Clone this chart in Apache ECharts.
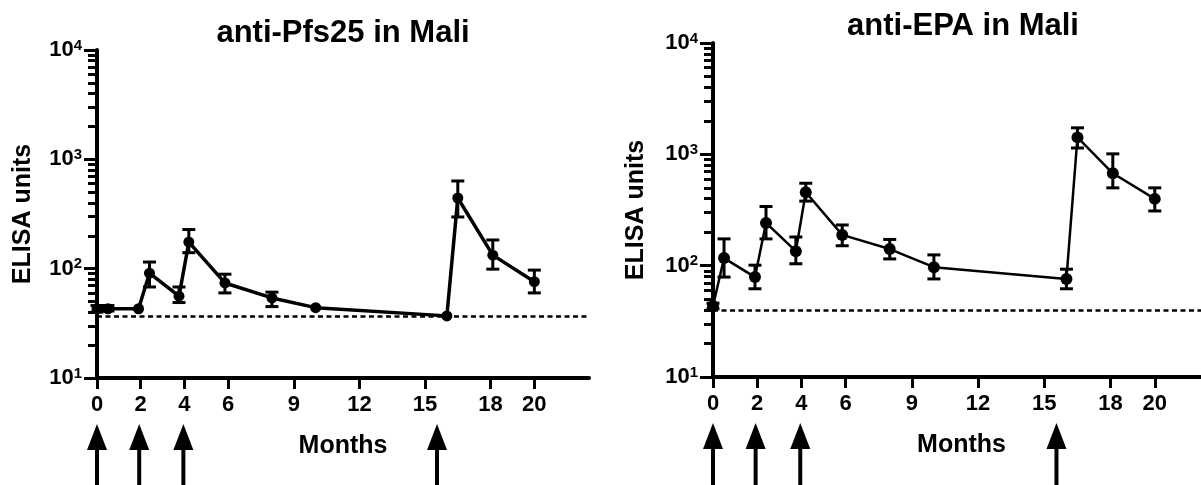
<!DOCTYPE html>
<html><head><meta charset="utf-8">
<script src="https://cdn.jsdelivr.net/npm/echarts@6/dist/echarts.min.js"></script>
<style>html,body{margin:0;padding:0;background:#fff}#c{width:1201px;height:485px}</style>
</head><body><div id="c"></div>
<script>
// ---- data ----
const months = [0, 0.5, 1.9, 2.4, 3.75, 4.2, 5.85, 8, 10, 16, 16.5, 18.1, 20];
const pfs25Mean = [43, 43, 43, 91, 56, 175, 74, 54, 44, 37, 443, 133, 76];
const pfs25Low  = [40, 41, null, 68, 49, 140, 60, 45, null, null, 297, 99, 60];
const pfs25High = [46, 46, null, 115, 68, 228, 89, 61, null, null, 634, 183, 97];
const epaMean = [43.5, 117, 79, 242, 135, 457, 189, 141, 97, 76, 1420, 676, 398];
const epaLow  = [41, 79, 62, 174, 104, 380, 151, 115, 76, 62, 1140, 500, 310];
const epaHigh = [46, 174, 101, 340, 181, 550, 232, 172, 125, 93, 1730, 1010, 500];
const vaccinationMonths = [0, 1.93, 3.95, 15.55];
const pfs25Cutoff = 37;
const epaCutoff = 40;
const xTickValues = [0, 2, 4, 6, 9, 12, 15, 18, 20];
const yMajorTicks = [10, 100, 1000, 10000];
const yMinorTicks = [20, 30, 40, 50, 60, 70, 80, 90, 200, 300, 400, 500, 600, 700, 800, 900, 2000, 3000, 4000, 5000, 6000, 7000, 8000, 9000];
const panelTitles = ['anti-Pfs25 in Mali', 'anti-EPA in Mali'];
const xName = 'Months';
const yName = 'ELISA units';

// ---- chart ----
const FONT = '"Liberation Sans", Arial, sans-serif';
const chart = echarts.init(document.getElementById('c'), null, {renderer: 'canvas'});

function pts(mean) { return months.map((m, i) => [m, mean[i]]); }
function errs(lo, hi) {
  const out = [];
  months.forEach((m, i) => { if (lo[i] != null) out.push([m, lo[i], hi[i]]); });
  return out;
}
function errRender(params, api) {
  const x = api.value(0);
  const lo = api.coord([x, api.value(1)]);
  const hi = api.coord([x, api.value(2)]);
  const w = 6.5, st = {stroke: '#000', lineWidth: 3};
  return {type: 'group', children: [
    {type: 'line', shape: {x1: lo[0], y1: lo[1], x2: hi[0], y2: hi[1]}, style: st},
    {type: 'line', shape: {x1: lo[0] - w, y1: lo[1], x2: lo[0] + w, y2: lo[1]}, style: st},
    {type: 'line', shape: {x1: hi[0] - w, y1: hi[1], x2: hi[0] + w, y2: hi[1]}, style: st}
  ]};
}
function arrowRender(params, api) {
  const p = api.coord([api.value(0), 10]);
  const x = p[0], y0 = p[1];
  return {type: 'group', children: [
    {type: 'polygon', shape: {points: [[x, y0 + 46], [x - 10, y0 + 72], [x + 10, y0 + 72]]}, style: {fill: '#000'}},
    {type: 'rect', shape: {x: x - 2, y: y0 + 70, width: 4, height: 40}, style: {fill: '#000'}}
  ]};
}
function xAxis(gi) {
  return {
    type: 'value', gridIndex: gi, min: 0, max: 22.5,
    name: xName, nameLocation: 'middle', nameGap: 56,
    nameTextStyle: {fontSize: 25, fontWeight: 'bold', color: '#000', fontFamily: FONT},
    axisLine: {show: true, lineStyle: {color: '#000', width: 4}},
    axisTick: {show: true, customValues: xTickValues, length: 11, lineStyle: {color: '#000', width: 3}},
    axisLabel: {customValues: xTickValues, margin: 16, fontSize: 22, fontWeight: 'bold', color: '#000', fontFamily: FONT},
    splitLine: {show: false}
  };
}
function yMain(gi, gap) {
  return {
    type: 'log', logBase: 10, gridIndex: gi, min: 10, max: 10000,
    name: yName, nameLocation: 'middle', nameGap: gap,
    nameTextStyle: {fontSize: 25, fontWeight: 'bold', color: '#000', fontFamily: FONT},
    axisLine: {show: true, lineStyle: {color: '#000', width: 4}},
    axisTick: {show: true, customValues: yMajorTicks, length: 13, lineStyle: {color: '#000', width: 3}},
    axisLabel: {
      customValues: yMajorTicks, margin: 15,
      formatter: v => '{b|10}{s|' + Math.round(Math.log10(v)) + '}',
      rich: {
        b: {fontSize: 22, fontWeight: 'bold', color: '#000', fontFamily: FONT, lineHeight: 24},
        s: {fontSize: 15, fontWeight: 'bold', color: '#000', fontFamily: FONT, lineHeight: 20, verticalAlign: 'top'}
      }
    },
    splitLine: {show: false}
  };
}
function yMinor(gi) {
  return {
    type: 'log', logBase: 10, gridIndex: gi, min: 10, max: 10000, position: 'left',
    axisLine: {show: false},
    axisTick: {show: true, customValues: yMinorTicks, length: 9, lineStyle: {color: '#000', width: 3}},
    axisLabel: {show: false},
    splitLine: {show: false}
  };
}
function panelSeries(xi, yi, mean, lo, hi, cutoff, lw, sym) {
  return [
    {type: 'custom', xAxisIndex: xi, yAxisIndex: yi, renderItem: errRender, data: errs(lo, hi),
     encode: {x: 0, y: [1, 2]}, z: 3, silent: true},
    {type: 'line', xAxisIndex: xi, yAxisIndex: yi, data: pts(mean), symbol: 'circle', symbolSize: sym,
     showSymbol: true, itemStyle: {color: '#000'}, lineStyle: {color: '#000', width: lw}, z: 4,
     markLine: {silent: true, symbol: 'none', label: {show: false},
       lineStyle: {color: '#000', width: 2.5, type: [5, 3.5]}, data: [{yAxis: cutoff}]}},
    {type: 'custom', xAxisIndex: xi, yAxisIndex: yi, renderItem: arrowRender, clip: false,
     data: vaccinationMonths.map(m => [m, 10]), encode: {x: 0, y: 1}, z: 5, silent: true}
  ];
}

const option = {
  animation: false,
  backgroundColor: '#fff',
  title: [
    {text: panelTitles[0], left: 343, top: 18, textAlign: 'center', padding: 0,
     textStyle: {fontSize: 31, fontWeight: 'bold', color: '#000', fontFamily: FONT}},
    {text: panelTitles[1], left: 963, top: 11, textAlign: 'center', padding: 0,
     textStyle: {fontSize: 31, fontWeight: 'bold', color: '#000', fontFamily: FONT}}
  ],
  grid: [
    {left: 97, top: 50, width: 492, height: 328, outerBoundsMode: 'none', containLabel: false},
    {left: 713, top: 43, width: 497, height: 334, outerBoundsMode: 'none', containLabel: false}
  ],
  xAxis: [xAxis(0), xAxis(1)],
  yAxis: [yMain(0, 61), yMain(1, 64), yMinor(0), yMinor(1)],
  series: [
    ...panelSeries(0, 0, pfs25Mean, pfs25Low, pfs25High, pfs25Cutoff, 3.5, 11),
    ...panelSeries(1, 1, epaMean, epaLow, epaHigh, epaCutoff, 2.5, 12)
  ]
};
chart.setOption(option);
</script>
</body></html>
